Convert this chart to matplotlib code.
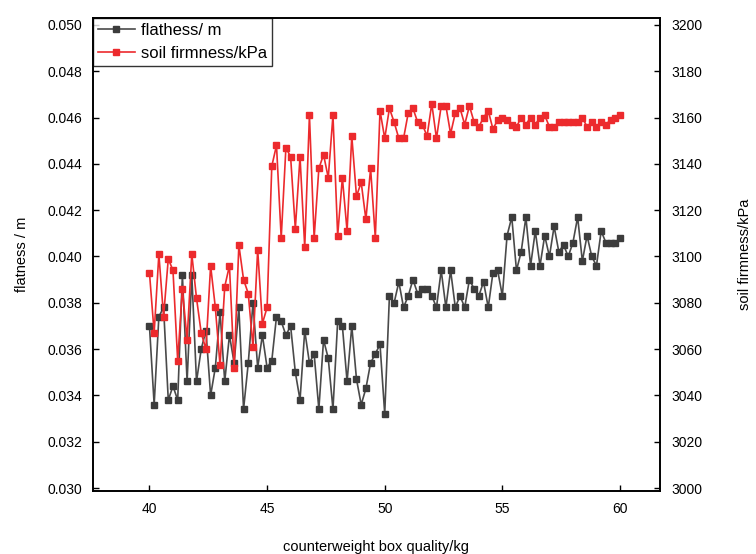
import numpy as np
import matplotlib
matplotlib.use("Agg")
import matplotlib.pyplot as plt

plt.rcParams['font.family'] = ['Liberation Sans', 'DejaVu Sans']

# x values: 40.0 .. 60.0 step 0.2 (101 points)
x_start = 40.0
x_step = 0.2

flatness = [
    0.0370, 0.0336, 0.0374, 0.0378, 0.0338, 0.0344, 0.0338, 0.0392, 0.0346, 0.0392,
    0.0346, 0.0360, 0.0368, 0.0340, 0.0352, 0.0376, 0.0346, 0.0366, 0.0354, 0.0378,
    0.0334, 0.0354, 0.0380, 0.0352, 0.0366, 0.0352, 0.0355, 0.0374, 0.0372, 0.0366,
    0.0370, 0.0350, 0.0338, 0.0368, 0.0354, 0.0358, 0.0334, 0.0364, 0.0356, 0.0334,
    0.0372, 0.0370, 0.0346, 0.0370, 0.0347, 0.0336, 0.0343, 0.0354, 0.0358, 0.0362,
    0.0332, 0.0383, 0.0380, 0.0389, 0.0378, 0.0383, 0.0390, 0.0384, 0.0386, 0.0386,
    0.0383, 0.0378, 0.0394, 0.0378, 0.0394, 0.0378, 0.0383, 0.0378, 0.0390, 0.0386,
    0.0383, 0.0389, 0.0378, 0.0393, 0.0394, 0.0383, 0.0409, 0.0417, 0.0394, 0.0402,
    0.0417, 0.0396, 0.0411, 0.0396, 0.0409, 0.0400, 0.0413, 0.0402, 0.0405, 0.0400,
    0.0406, 0.0417, 0.0398, 0.0409, 0.0400, 0.0396, 0.0411, 0.0406, 0.0406, 0.0406,
    0.0408,
]

soil_firmness = [
    3093, 3067, 3101, 3074, 3099, 3094, 3055, 3086, 3064, 3101,
    3082, 3067, 3060, 3096, 3078, 3053, 3087, 3096, 3052, 3105,
    3090, 3084, 3061, 3103, 3071, 3078, 3139, 3148, 3108, 3147,
    3143, 3112, 3143, 3104, 3161, 3108, 3138, 3144, 3134, 3161,
    3109, 3134, 3111, 3152, 3126, 3132, 3116, 3138, 3108, 3163,
    3151, 3164, 3158, 3151, 3151, 3162, 3164, 3158, 3157, 3152,
    3166, 3151, 3165, 3165, 3153, 3162, 3164, 3157, 3165, 3158,
    3156, 3160, 3163, 3155, 3159, 3160, 3159, 3157, 3156, 3160,
    3157, 3160, 3157, 3160, 3161, 3156, 3156, 3158, 3158, 3158,
    3158, 3158, 3160, 3156, 3158, 3156, 3158, 3157, 3159, 3160,
    3161,
]

left_ticks = [0.030, 0.032, 0.034, 0.036, 0.038, 0.040, 0.042, 0.044, 0.046, 0.048, 0.050]
right_ticks = [3000, 3020, 3040, 3060, 3080, 3100, 3120, 3140, 3160, 3180, 3200]
x_ticks = [40, 45, 50, 55, 60]

x = x_start + x_step * np.arange(len(flatness))

grey = '#4a4a4a'
red = '#ec2a2d'

fig = plt.figure(figsize=(7.56, 5.54), dpi=100)
ax = fig.add_axes([0.123, 0.1137, 0.750, 0.8538])
ax2 = ax.twinx()

l1, = ax.plot(x, flatness, '-s', color=grey, lw=1.2, ms=4.5, mfc='#3c3c3c', mec='#3c3c3c',
              label='flathess/ m')
l2, = ax2.plot(x, soil_firmness, '-s', color=red, lw=1.2, ms=4.5, mfc=red, mec=red,
               label='soil firmness/kPa')

ax.set_xlim(37.6, 61.7)
ax.set_ylim(0.02987, 0.0503)
ax2.set_ylim(2998.7, 3203)
ax.set_xticks(x_ticks)
ax.set_yticks(left_ticks)
ax.set_yticklabels([f'{v:.3f}' for v in left_ticks])
ax2.set_yticks(right_ticks)

for a in (ax, ax2):
    a.tick_params(labelsize=10, direction='in', length=4, width=1, pad=8)
    for s in a.spines.values():
        s.set_linewidth(1.2)

ax.set_xlabel('counterweight box quality/kg', fontsize=10.5, labelpad=17)
ax.set_ylabel('flatness / m', fontsize=10.5, labelpad=13)
ax2.set_ylabel('soil firmness/kPa', fontsize=10.5, rotation=90, labelpad=26)

leg = ax.legend(handles=[l1, l2], loc='upper left', fontsize=12, frameon=True,
                fancybox=False, edgecolor='black', borderaxespad=0.0,
                handlelength=2.2, handletextpad=0.4, borderpad=0.3, labelspacing=0.45)
leg.get_frame().set_linewidth(1.0)

fig.savefig('out.png', dpi=100)
